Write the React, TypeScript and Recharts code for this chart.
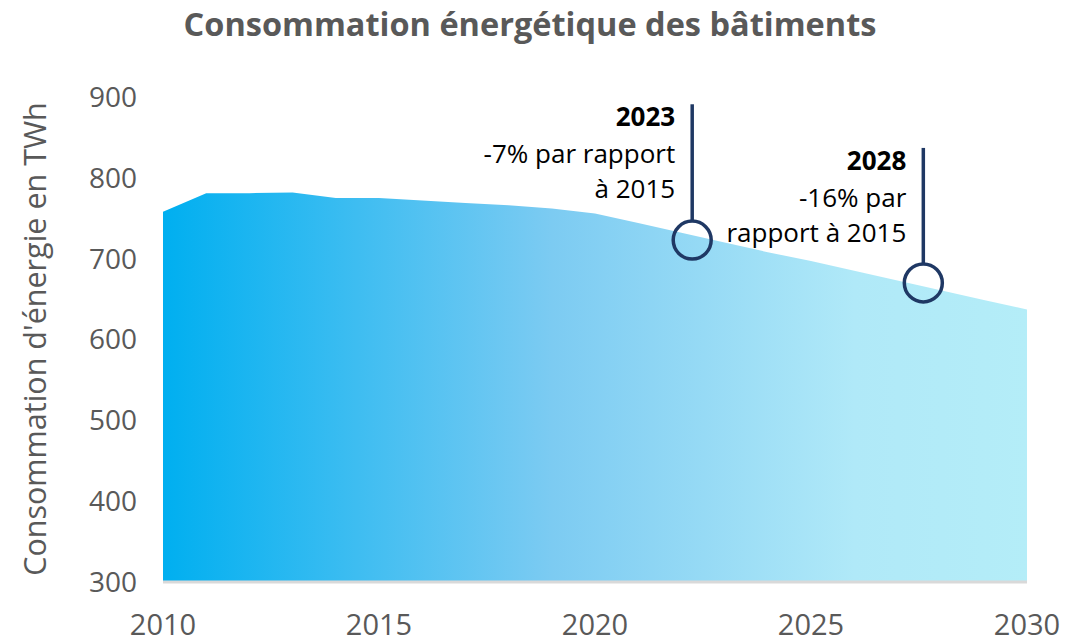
import React from 'react';
import {
  AreaChart,
  Area,
  XAxis,
  YAxis,
  ReferenceLine,
  ReferenceDot,
  Label,
} from 'recharts';

// Values (TWh)
const years = [2010, 2011, 2012, 2013, 2014, 2015, 2016, 2017, 2018, 2019, 2020, 2021, 2022, 2023, 2024, 2025, 2026, 2027, 2028, 2029, 2030];
const consumption = [758, 781, 781, 782, 775, 775, 772, 769, 766, 762, 756, 744, 732, 720, 708, 697, 685, 673, 661, 649, 637];

const xTicks = [2010, 2015, 2020, 2025, 2030];
const yTicks = [300, 400, 500, 600, 700, 800, 900];

// Annotation markers: where the circle sits, where the stem starts, and the text
const markerX = [2022.25, 2027.6];
const markerY = [723, 670];
const stemTop = [891, 837];
const markerText = [
  ['2023', '-7% par rapport', 'à 2015'],
  ['2028', '-16% par', 'rapport à 2015'],
];

const data = years.map((year, i) => ({ year, value: consumption[i] }));

const FONT = '"Open Sans", sans-serif';
const GREY = '#595959';
const NAVY = '#1f3864';
const R = 19;

const AnnotationText = ({ viewBox, lines }: any) => {
  const x = viewBox?.x ?? viewBox?.x1 ?? 0;
  const y = viewBox?.y ?? Math.min(viewBox?.y1 ?? 0, viewBox?.y2 ?? 0);
  const offsets = [22, 59, 94];
  return (
    <g>
      {lines.map((t: string, i: number) => (
        <text
          key={i}
          x={x - 17}
          y={y + offsets[i]}
          textAnchor="end"
          fontFamily={FONT}
          fontSize={26}
          fontWeight={i === 0 ? 700 : 400}
          fill="#000"
        >
          {t}
        </text>
      ))}
    </g>
  );
};

export default function App() {
  return (
    <div style={{ position: 'absolute', left: 0, top: 0, width: 1066, height: 644, background: '#fff' }}>
      <div
        style={{
          position: 'absolute',
          left: 0,
          top: 3,
          width: 1060,
          textAlign: 'center',
          fontFamily: FONT,
          fontWeight: 700,
          fontSize: 32.5,
          color: GREY,
          lineHeight: '42px',
        }}
      >
        Consommation énergétique des bâtiments
      </div>
      <AreaChart width={1066} height={644} data={data} margin={{ top: 97, right: 39, bottom: 0, left: 0 }}>
        <defs>
          <linearGradient id="fillGrad" x1="0" y1="0" x2="1" y2="0">
            <stop offset="0%" stopColor="#00aff0" />
            <stop offset="45%" stopColor="#7ccbf2" />
            <stop offset="80%" stopColor="#b0e9f8" />
            <stop offset="100%" stopColor="#b4edf8" />
          </linearGradient>
        </defs>
        <XAxis
          dataKey="year"
          type="number"
          domain={[2010, 2030]}
          ticks={xTicks}
          height={62}
          axisLine={{ stroke: '#d9d9d9', strokeWidth: 3 }}
          tickLine={false}
          tickMargin={26}
          tick={{ fill: GREY, fontSize: 29, fontFamily: FONT }}
        />
        <YAxis
          domain={[300, 900]}
          ticks={yTicks}
          width={163}
          axisLine={false}
          tickLine={false}
          tickMargin={20}
          tick={{ fill: GREY, fontSize: 28, fontFamily: FONT }}
        >
          <Label
            content={() => (
              <text
                transform="translate(34,339) rotate(-90)"
                textAnchor="middle"
                dominantBaseline="central"
                fontFamily={FONT}
                fontSize={30.5}
                fill={GREY}
              >
                Consommation d'énergie en TWh
              </text>
            )}
          />
        </YAxis>
        <Area
          type="linear"
          dataKey="value"
          stroke="none"
          fill="url(#fillGrad)"
          fillOpacity={1}
          isAnimationActive={false}
        />
        {markerX.map((mx, i) => (
          <ReferenceLine
            key={`l${i}`}
            segment={[
              { x: mx, y: stemTop[i] },
              { x: mx, y: markerY[i] + 23.5 },
            ]}
            stroke={NAVY}
            strokeWidth={3.5}
            label={<AnnotationText lines={markerText[i]} />}
          />
        ))}
        {markerX.map((mx, i) => (
          <ReferenceDot
            key={`d${i}`}
            x={mx}
            y={markerY[i]}
            r={R}
            fill="none"
            stroke={NAVY}
            strokeWidth={3.5}
          />
        ))}
      </AreaChart>
    </div>
  );
}
